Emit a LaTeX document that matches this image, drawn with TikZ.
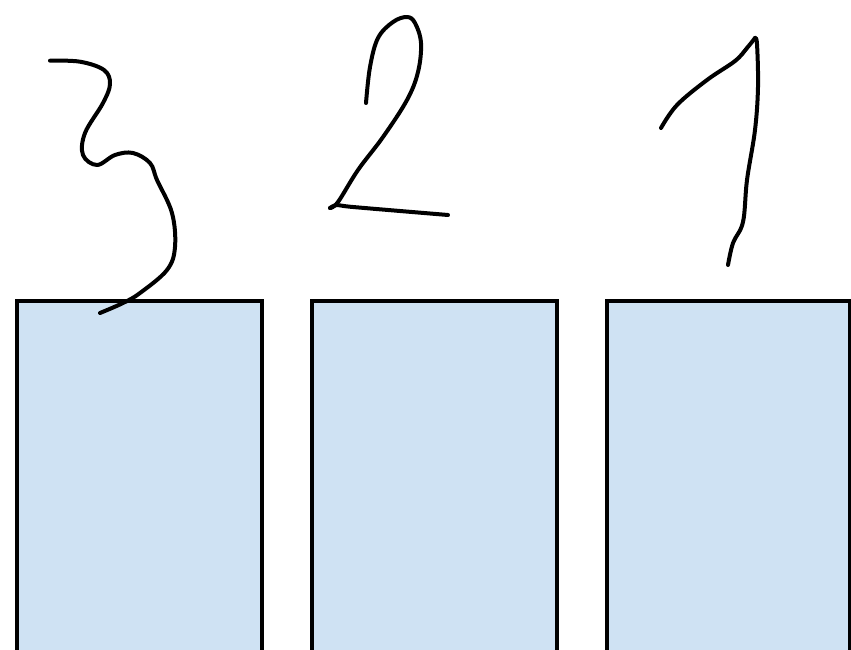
\documentclass[tikz,border=0pt]{standalone}
\definecolor{boxfill}{HTML}{CFE2F3}
\tikzset{
  box/.style={draw=black, fill=boxfill, line width=3.5pt, rectangle, minimum width=245pt, minimum height=360pt, anchor=north west, inner sep=0pt, outer sep=0pt},
  ink/.style={draw=black, line width=4pt, line cap=round, line join=round}
}
\begin{document}
\begin{tikzpicture}[x=1pt, y=-1pt]
\clip (0,0) rectangle (851,650);
\fill[white] (0,0) rectangle (851,650);
\node[box] (b3) at (17,301) {};
\node[box] (b2) at (312,301) {};
\node[box, minimum width=242.5pt] (b1) at (607,301) {};
% digit 3
\draw[ink] plot[smooth, tension=0.6] coordinates {(50,60.7) (80,61.7) (104,70) (110,84) (103,103) (85,133) (83,155) (97,165) (115,155) (133,153) (150,163) (157,180) (172,213) (175,247) (167,270) (140,293) (123,303) (100,313)};
% digit 2
\draw[ink] plot[smooth, tension=0.6] coordinates {(366,103) (370,67) (378,38) (393,22) (407,17) (415,23) (421,43) (418,72) (407,100) (383,137) (358,170) (338,202) (330,208)};
\draw[ink] plot[smooth, tension=0.5] coordinates {(330,208) (337,205) (353,207) (448,215)};
% digit 1
\draw[ink] plot[smooth, tension=0.6] coordinates {(661,128) (677,105) (707,80) (735,61) (747,48) (755,38)};
\draw[ink] plot[smooth, tension=0.6] coordinates {(755,38) (757,44) (758,87) (755,130) (747,180) (743,222) (733,243) (728,265)};
\end{tikzpicture}
\end{document}
